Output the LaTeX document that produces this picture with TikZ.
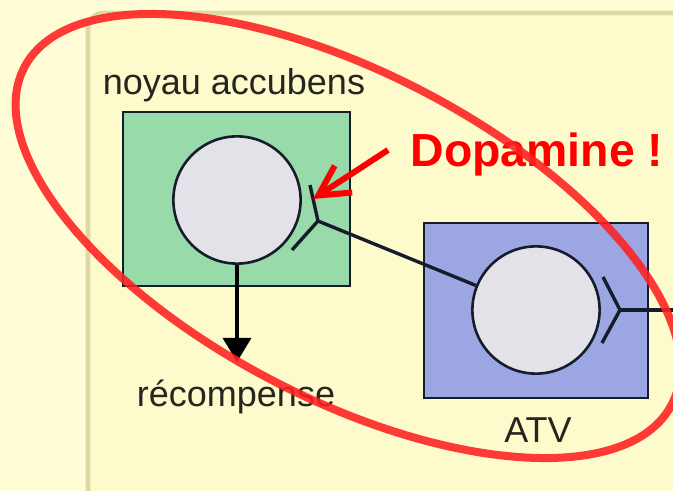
\documentclass[tikz,border=0pt]{standalone}
\usepackage{fontspec}
\setmainfont{Liberation Sans}
\usetikzlibrary{arrows.meta}
\definecolor{figpage}{RGB}{255,253,214}
\definecolor{figpanel}{RGB}{253,250,204}
\definecolor{figrim}{RGB}{222,217,164}
\definecolor{figgreen}{RGB}{152,218,170}
\definecolor{figblue}{RGB}{156,166,226}
\definecolor{figcell}{RGB}{226,226,232}
\definecolor{figline}{RGB}{22,28,42}
\definecolor{figtext}{RGB}{38,38,32}
\definecolor{figred}{RGB}{255,32,32}
\tikzset{
  panel/.style={draw=figrim, line width=0.12cm, rounded corners=0.4cm, fill=figpanel},
  areabox/.style={draw=figline, line width=0.05cm, inner sep=0pt},
  cell/.style={circle, draw=figline, line width=0.065cm, fill=figcell, minimum size=3.18cm, inner sep=0pt},
  synapse/.style={draw=figline, line width=0.085cm},
  line/.style={-{Triangle[length=0.6cm,width=0.7cm]}, draw=black, line width=0.08cm},
  figlabel/.style={font=\fontsize{25.6}{30}\selectfont, text=figtext, inner sep=0pt},
  callout/.style={font=\fontsize{33}{40}\selectfont\bfseries, text=red, inner sep=0pt},
  pointer/.style={-{Straight Barb[length=0.75cm,width=0.8cm]}, draw=red, line width=0.15cm},
  circling/.style={draw=figred, opacity=0.88, line width=0.2cm}
}
\begin{document}
\begin{tikzpicture}[x=0.025cm,y=-0.025cm]
  \fill[figpage] (0,0) rectangle (673,491);
  \useasboundingbox (0,0) rectangle (673,491);
  \draw[panel] (88,13) rectangle (720,540);

  \node[areabox, fill=figgreen, minimum width=5.68cm, minimum height=4.35cm] (nacBox) at (236.5,199) {};
  \node[areabox, fill=figblue, minimum width=5.6cm, minimum height=4.38cm] (atvBox) at (536,310.5) {};
  \node[cell] (nacCell) at (237,200) {};
  \node[cell] (atvCell) at (536,310) {};

  \node[figlabel, anchor=base] (nacLabel) at (234,95) {noyau accubens};
  \node[figlabel, anchor=base] (recLabel) at (236,407) {récompense};
  \node[figlabel, anchor=base] (atvLabel) at (538,443) {ATV};
  \node[callout, anchor=base] (dopaLabel) at (537,167) {Dopamine !};

  \coordinate (nacJoint) at (318,221);
  \coordinate (nacArmUp) at (310,185);
  \coordinate (nacArmDown) at (292,250);
  \coordinate (atvJoint) at (620,310);
  \coordinate (atvArmUp) at (603,277);
  \coordinate (atvArmDown) at (602,343);
  \coordinate (atvOut) at (680,310);
  \coordinate (recTip) at (237,362);
  \coordinate (dopaStart) at (388,150);
  \coordinate (dopaTip) at (313,199);

  \draw[synapse] (nacArmUp) -- (nacJoint) -- (nacArmDown);
  \draw[synapse] (nacJoint) -- (atvCell);
  \draw[synapse] (atvArmUp) -- (atvJoint) -- (atvArmDown);
  \draw[synapse] (atvJoint) -- (atvOut);
  \draw[line] (nacCell.south) -- (recTip);
  \draw[pointer] (dopaStart) -- (dopaTip);

  \draw[circling, rotate around={-27.5:(348,236)}] (348,236) ellipse [x radius=365, y radius=163];
\end{tikzpicture}
\end{document}
